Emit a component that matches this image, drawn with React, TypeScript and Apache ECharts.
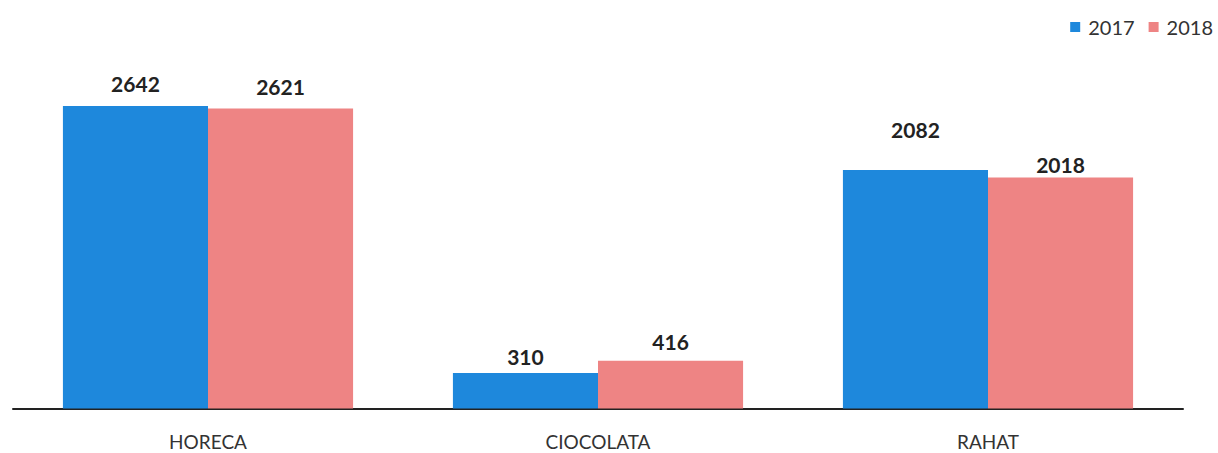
import React, { useEffect, useRef } from "react";
import * as echarts from "echarts";

const categories = ["HORECA", "CIOCOLATA", "RAHAT"];
const seriesNames = ["2017", "2018"];
const values2017 = [2642, 310, 2082];
const values2018 = [2621, 416, 2018];
// label distances above bars (style)
const labelDist2017 = [12, 6, 30];
const labelDist2018 = [11, 9, 2];

const colors = ["#1E88DC", "#EE8484"];

export default function App() {
  const ref = useRef<HTMLDivElement>(null);
  useEffect(() => {
    if (!ref.current) return;
    const chart = echarts.init(ref.current, undefined, { renderer: "svg" });
    const font = "Lato, 'Open Sans', sans-serif";
    const mk = (vals: number[], dists: number[]) =>
      vals.map((v, i) => ({ value: v, label: { distance: dists[i] } }));
    chart.setOption({
      animation: false,
      backgroundColor: "#ffffff",
      legend: {
        data: seriesNames,
        top: 12,
        right: 0,
        icon: "rect",
        itemWidth: 10,
        itemHeight: 10,
        itemGap: 14,
        textStyle: { fontFamily: font, fontSize: 20, color: "#333", padding: [0, 0, 0, 3] },
      },
      grid: { left: 13, right: 35, top: 65, bottom: 44.5, containLabel: false },
      xAxis: {
        type: "category",
        data: categories,
        axisLine: { show: true, lineStyle: { color: "#222", width: 2 } },
        axisTick: { show: false },
        axisLabel: { fontFamily: font, fontSize: 19, color: "#333", margin: 23 },
      },
      yAxis: {
        type: "value",
        min: 0,
        max: 3000,
        show: false,
        splitLine: { show: false },
      },
      series: [
        {
          name: seriesNames[0],
          type: "bar",
          data: mk(values2017, labelDist2017),
          barGap: "0%",
          barCategoryGap: "25.6%",
          itemStyle: { color: colors[0] },
          label: {
            show: true,
            position: "top",
            fontFamily: font,
            fontWeight: "bold",
            fontSize: 21,
            color: "#222",
          },
        },
        {
          name: seriesNames[1],
          type: "bar",
          data: mk(values2018, labelDist2018),
          barGap: "0%",
          barCategoryGap: "25.6%",
          itemStyle: { color: colors[1] },
          label: {
            show: true,
            position: "top",
            fontFamily: font,
            fontWeight: "bold",
            fontSize: 21,
            color: "#222",
          },
        },
      ],
    });
    return () => chart.dispose();
  }, []);
  return <div ref={ref} style={{ width: 1218, height: 453, position: "absolute", left: 0, top: 0 }} />;
}
